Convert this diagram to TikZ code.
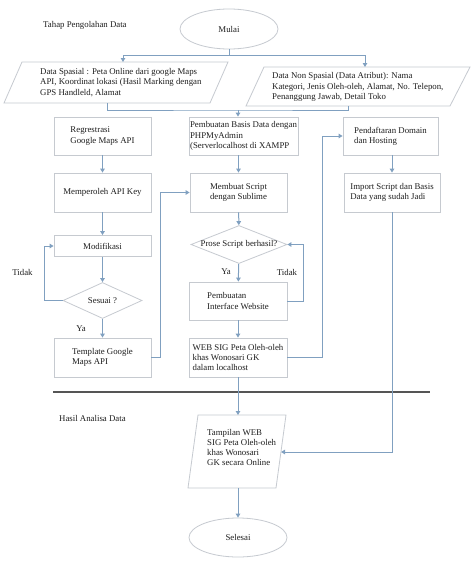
\documentclass[tikz,border=0pt]{standalone}
\usepackage{fontspec}
\setmainfont{Liberation Serif}
\usetikzlibrary{shapes.geometric,arrows.meta}
\definecolor{lnblue}{RGB}{128,160,192}
\definecolor{bxgray}{RGB}{198,202,208}
\definecolor{sepgray}{RGB}{85,85,85}
\definecolor{txt}{RGB}{30,30,30}
\begin{document}
\begin{tikzpicture}[x=1pt,y=-1pt,
  font=\fontsize{8.8}{10.2}\selectfont,
  every node/.style={text=txt},
  box/.style={draw=bxgray, line width=0.8pt, fill=white, align=left, inner sep=1pt},
  oval/.style={ellipse, draw=bxgray, line width=0.8pt, fill=white, inner sep=0pt},
  dia/.style={diamond, draw=bxgray, line width=0.8pt, fill=white, inner sep=0pt},
  para/.style={draw=bxgray, line width=0.8pt, fill=white},
  plain/.style={align=left, inner sep=0pt},
  link/.style={draw=lnblue, line width=1pt},
  arr/.style={link, -{Triangle[length=4pt,width=4.5pt]}},
  sepline/.style={draw=sepgray, line width=1.3pt}]
\useasboundingbox[fill=white] (0,0) rectangle (474,565);

% titles
\node[plain, anchor=west] (tahap) at (43,25) {Tahap Pengolahan Data};
\node[plain, anchor=west] (hasil) at (59,418) {Hasil Analisa Data};

% start
\node[oval, minimum width=98, minimum height=40] (mulai) at (229,29) {Mulai};

% input parallelograms
\draw[para] (22,62) -- (228,62) -- (210,103) -- (4,103) -- cycle;
\coordinate (p1top) at (123,62);
\coordinate (p1bot) at (107,103);
\node[plain, anchor=west] (p1) at (40,82.5) {Data Spasial : Peta Online dari google Maps\\API, Koordinat lokasi (Hasil Marking dengan\\GPS Handleld, Alamat};

\draw[para] (264,67) -- (470,67) -- (450,106) -- (246,106) -- cycle;
\coordinate (p2top) at (365,67);
\coordinate (p2bot) at (348,106);
\node[plain, anchor=west] (p2) at (272,87) {Data Non Spasial (Data Atribut): Nama\\Kategori, Jenis Oleh-oleh, Alamat, No. Telepon,\\Penanggung Jawab, Detail Toko};

\coordinate (split) at (229,55);
\draw[link] (mulai.south) -- (split);
\draw[arr] (split) -| (p1top);
\draw[arr] (split) -| (p2top);

\coordinate (merge) at (238,110);
\draw[link] (p1bot) |- (merge) -| (p2bot);

% column 1
\node[box, minimum width=97, minimum height=38] (r1) at (102.5,136) {Regrestrasi\\Google Maps API};
\node[box, minimum width=97, minimum height=39] (r2) at (102.5,192.5) {Memperoleh API Key};
\node[box, minimum width=97, minimum height=21] (r3) at (102.5,246) {Modifikasi};
\node[dia, minimum width=79, minimum height=36, label={center:Sesuai ?}] (d1) at (102.5,300.5) {};
\node[box, minimum width=97, minimum height=39] (r4) at (102.5,357.5) {Template Google\\Maps API};

% column 2
\node[box, minimum width=109, minimum height=38] (b1) at (243.5,136) {Pembuatan Basis Data dengan\\PHPMyAdmin\\(Serverlocalhost di XAMPP};
\node[box, minimum width=97, minimum height=39] (s2) at (238.5,192.5) {Membuat Script\\dengan Sublime};
\node[dia, minimum width=96, minimum height=38, label={center:Prose Script berhasil?}] (d2) at (239,244.5) {};
\node[box, minimum width=98, minimum height=38] (b3) at (238,301) {Pembuatan\\Interface Website};
\node[box, minimum width=98, minimum height=39] (b4) at (238,357.5) {WEB SIG Peta Oleh-oleh\\khas Wonosari GK\\dalam localhost};

% column 3
\node[box, minimum width=95, minimum height=38] (c1) at (390.5,136) {Pendaftaran Domain\\dan Hosting};
\node[box, minimum width=96, minimum height=39] (c2) at (392,192.5) {Import Script dan Basis\\Data yang sudah Jadi};

% output parallelogram
\draw[para] (198,415) -- (286,415) -- (276,488) -- (188,488) -- cycle;
\coordinate (ttop) at (238,415);
\coordinate (tbot) at (238,488);
\coordinate (tright) at (281,452);
\node[plain, anchor=west] (tampil) at (207,447.5) {Tampilan WEB\\SIG Peta Oleh-oleh\\khas Wonosari\\GK secara Online};

\node[oval, minimum width=98, minimum height=39] (selesai) at (238,537.5) {Selesai};

% separator
\coordinate (sepl) at (53,392);
\coordinate (sepr) at (430,392);
\draw[sepline] (sepl) -- (sepr);

% labels
\node[plain] (tidak1) at (22.5,272) {Tidak};
\node[plain] (ya1) at (81,328.5) {Ya};
\node[plain] (ya2) at (226,272) {Ya};
\node[plain] (tidak2) at (287,272) {Tidak};

% connectors column 1
\draw[arr] (r1) -- (r2);
\draw[arr] (r2) -- (r3);
\draw[arr] (r3) -- (d1);
\draw[arr] (d1) -- (r4);
\draw[arr] (d1.west) -- (44,300.5) |- (r3.west);
\draw[arr] (r4.east) -- ++(9,0) |- (s2.west);

% connectors column 2
\draw[arr] (merge) -- (merge |- b1.north);
\draw[arr] (s2.north |- b1.south) -- (s2.north);
\draw[arr] (s2) -- (d2);
\draw[arr] (d2) -- (b3);
\draw[arr] (b3.east) -- (303,301) |- (d2.east);
\draw[arr] (b3) -- (b4);
\draw[arr] (b4.east) -- (322,357.5) |- (c1.west);
\draw[arr] (b4.south) -- (ttop);
\draw[arr] (tbot) -- (selesai.north);

% connectors column 3
\draw[arr] (c1.south -| c2.north) -- (c2.north);
\draw[arr] (c2.south) -- (392,452) -- (tright);
\end{tikzpicture}
\end{document}
